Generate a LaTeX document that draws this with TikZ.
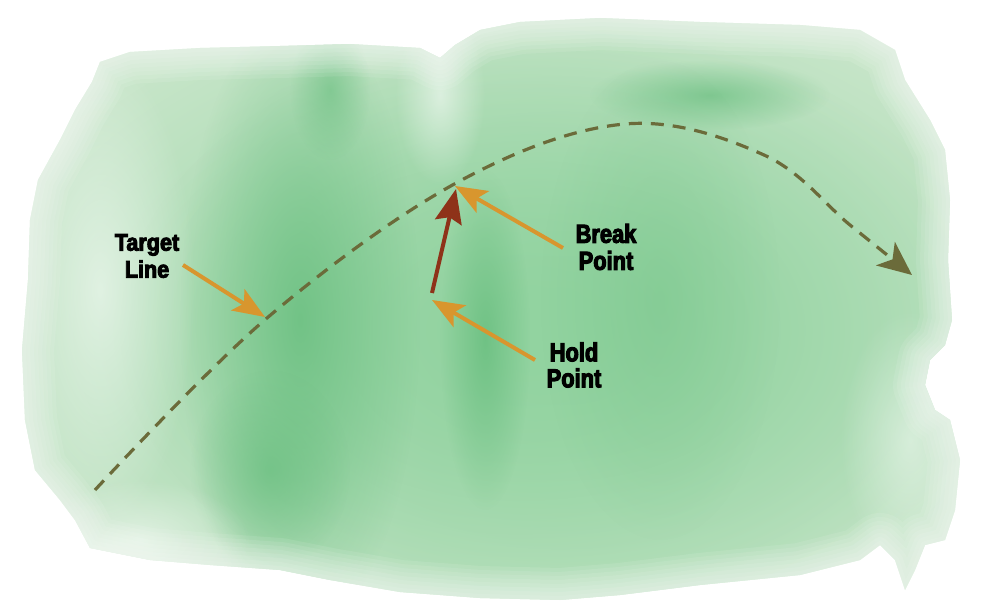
\documentclass[tikz,border=0pt]{standalone}
\usepackage{fontspec}
\usetikzlibrary{arrows.meta,fadings}
\newfontfamily\labfont{Liberation Sans}[FakeStretch=0.84, BoldFeatures={FakeBold=4}]
\newfontfamily\tgtfont{Liberation Sans}[FakeStretch=0.9, BoldFeatures={FakeBold=4}]

\definecolor{paleG}{HTML}{C6E5C8}
\definecolor{midG}{HTML}{92D3A0}
\definecolor{deepG}{HTML}{6ABF80}
\definecolor{olive}{HTML}{6B6B3A}
\definecolor{rust}{HTML}{8E3219}
\definecolor{amber}{HTML}{D8962E}

\tikzfading[name=soft, inner color=transparent!0, outer color=transparent!100]

\tikzset{
  wash/.style={fill=#1, path fading=soft},
  label/.style={inner sep=0pt, align=center, text=black},
  pointer/.style={draw=amber, line width=4pt,
    -{Stealth[length=32pt, width=25pt, inset=7pt]}},
  push/.style={draw=rust, line width=4pt,
    -{Stealth[length=34pt, width=27pt, inset=5pt]}},
  flight/.style={draw=olive, line width=3.2pt, dash pattern=on 13pt off 9pt,
    -{Stealth[length=34pt, width=30pt, inset=9pt]}},
}

\begin{document}
\begin{tikzpicture}[x=1pt, y=-1pt]
\useasboundingbox (0,0) rectangle (999,607);

% watercolour wash outline
\def\washpath{(30,220) -- (38,180) -- (60,140) -- (75,110) -- (92,82) -- (100,62)
  -- (130,52) -- (200,48) -- (280,46) -- (350,44) -- (420,48) -- (440,58)
  -- (455,45) -- (480,30) -- (520,22) -- (600,18) -- (700,22) -- (800,25)
  -- (860,30) -- (895,50) -- (905,80) -- (930,120) -- (945,150) -- (950,200)
  -- (948,260) -- (952,320) -- (945,345) -- (930,360) -- (925,385) -- (935,410)
  -- (950,420) -- (960,460) -- (955,510) -- (945,540) -- (925,545) -- (915,570)
  -- (905,590) -- (895,560) -- (880,545) -- (860,560) -- (800,575) -- (700,585)
  -- (620,595) -- (560,600) -- (480,598) -- (400,592) -- (330,580) -- (280,570)
  -- (210,565) -- (150,560) -- (90,548) -- (75,520) -- (60,500) -- (35,470)
  -- (25,420) -- (22,350) -- (28,280) -- cycle}

\fill[paleG] \washpath;
\begin{scope}
  \clip \washpath;
  \path[wash=midG] (520,330) ellipse [x radius=540, y radius=340];
  \path[wash=midG] (560,330) ellipse [x radius=440, y radius=300];
  \path[wash=deepG, opacity=.85] (300,320) ellipse [x radius=120, y radius=310];
  \path[wash=deepG, opacity=.7] (270,470) ellipse [x radius=80, y radius=100];
  \path[wash=deepG, opacity=.85] (485,340) ellipse [x radius=45, y radius=170];
  \path[wash=deepG, opacity=.6] (330,90) ellipse [x radius=40, y radius=70];
  \path[wash=deepG, opacity=.7] (710,95) ellipse [x radius=120, y radius=35];
  \path[wash=deepG, opacity=.35] (660,300) ellipse [x radius=120, y radius=240];
  \path[wash=white, opacity=.55] (440,95) ellipse [x radius=45, y radius=90];
  \path[wash=white, opacity=.55] (100,290) ellipse [x radius=95, y radius=240];
  \path[wash=white, opacity=.5] (140,540) ellipse [x radius=110, y radius=60];
  \path[wash=white, opacity=.45] (910,440) ellipse [x radius=70, y radius=130];
  \foreach \w in {64,56,48,40,32,24,16,8}
    \draw[white, opacity=.09, line width=\w pt, line join=round] \washpath;
\end{scope}

% labels
\node[label, font=\tgtfont\bfseries\fontsize{24}{27}\selectfont] (tgt) at (147,256) {Target\\Line};
\node[label, font=\labfont\bfseries\fontsize{26}{27}\selectfont] (brk) at (606,247) {Break\\Point};
\node[label, font=\labfont\bfseries\fontsize{26}{26}\selectfont] (hld) at (574,365) {Hold\\Point};

% ball path
\coordinate (start) at (95,490);
\coordinate (land) at (912,275);
\draw[flight] plot[smooth, tension=0.6] coordinates
  {(start) (267,318) (458,182) (625,124) (764,155) (850,225) (land)};

% points on and near the path
\coordinate (holdpt) at (432,293);
\coordinate (breakpt) at (456,189);
\coordinate (breaktip) at (455,186);
\coordinate (holdtip) at (432,300);
\coordinate (tgtpt) at (265,317);

\coordinate (tgttail) at (183,265);
\coordinate (brktail) at (563,248);
\coordinate (hldtail) at (535,360);

\draw[push] (holdpt) -- (breakpt);
\draw[pointer] (tgttail) -- (tgtpt);
\draw[pointer] (brktail) -- (breaktip);
\draw[pointer] (hldtail) -- (holdtip);
\end{tikzpicture}
\end{document}
